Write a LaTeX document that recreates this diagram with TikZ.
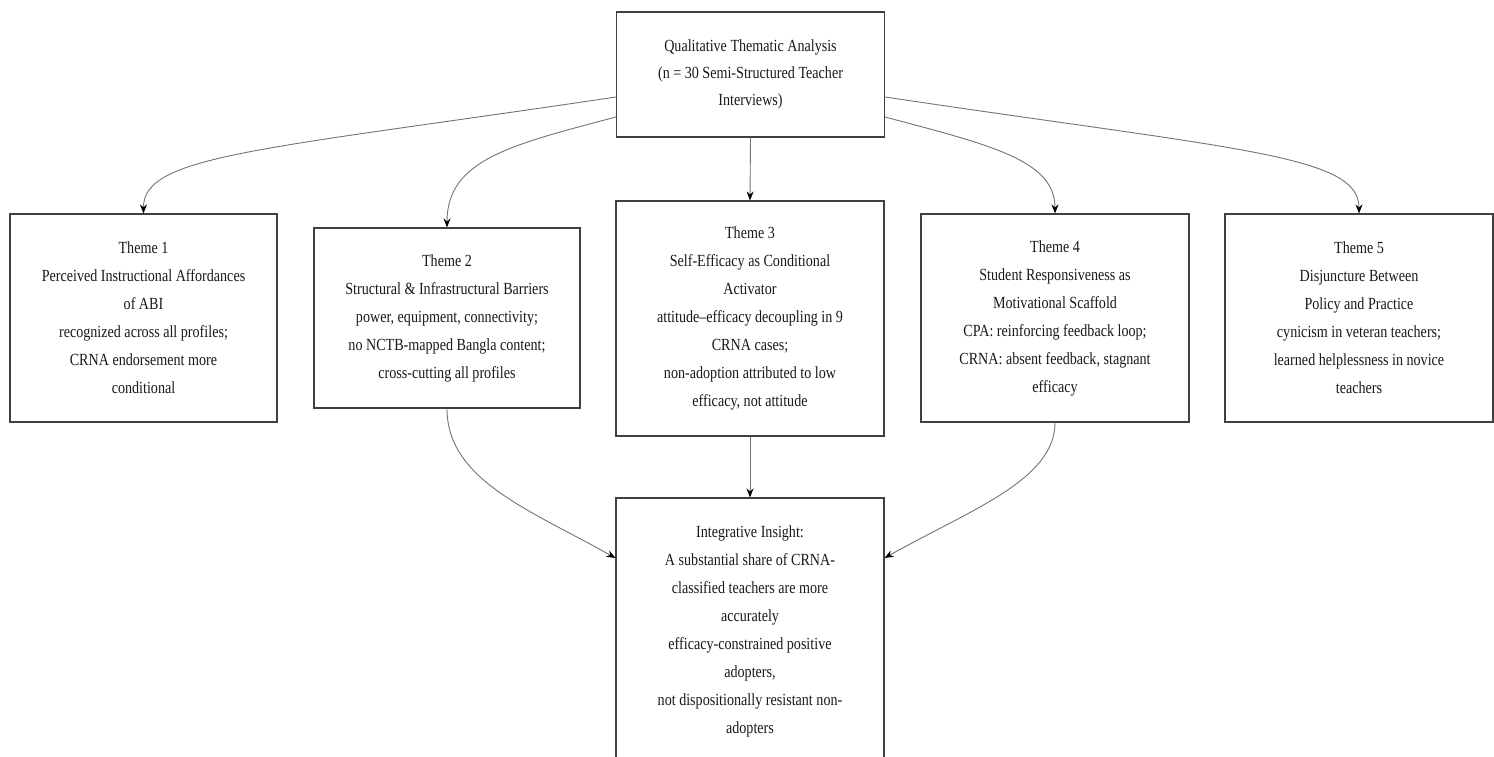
\documentclass[tikz,border=0pt]{standalone}
\usepackage{fontspec}
\setmainfont[FakeStretch=0.83]{Liberation Serif}
\usetikzlibrary{arrows.meta,calc}
\begin{document}
\begin{tikzpicture}[x=1pt,y=-1pt,
 box/.style={draw=black!75, line width=1.1pt, fill=white, align=center, inner sep=0pt,
   font=\fontsize{17}{28}\selectfont, text=black!90, minimum width=268pt},
 conn/.style={draw=black!55, line width=0.9pt, -{Stealth[length=9pt,width=7pt,black]}}]
\useasboundingbox (0,0) rectangle (1494,756);
\clip (0,0) rectangle (1494,756);

\node[box, minimum height=125pt, font=\fontsize{17}{27}\selectfont] (top) at (750.5,74.5)
  {Qualitative Thematic Analysis\\(n = 30 Semi-Structured Teacher\\Interviews)};

\node[box, minimum width=267pt, minimum height=208pt] (t1) at (143.5,318)
  {Theme 1\\Perceived Instructional Affordances\\of ABI\\recognized across all profiles;\\CRNA endorsement more\\conditional};
\node[box, minimum width=266pt, minimum height=180pt] (t2) at (447,318)
  {Theme 2\\Structural \& Infrastructural Barriers\\power, equipment, connectivity;\\no NCTB-mapped Bangla content;\\cross-cutting all profiles};
\node[box, minimum height=235pt] (t3) at (750,318.5)
  {Theme 3\\Self-Efficacy as Conditional\\Activator\\attitude--efficacy decoupling in 9\\CRNA cases;\\non-adoption attributed to low\\efficacy, not attitude};
\node[box, minimum height=208pt] (t4) at (1055,318)
  {Theme 4\\Student Responsiveness as\\Motivational Scaffold\\CPA: reinforcing feedback loop;\\CRNA: absent feedback, stagnant\\efficacy};
\node[box, minimum height=208pt] (t5) at (1359,318)
  {Theme 5\\Disjuncture Between\\Policy and Practice\\cynicism in veteran teachers;\\learned helplessness in novice\\teachers};

\node[box, minimum height=267pt] (ins) at (750,631.5)
  {Integrative Insight:\\A substantial share of CRNA-\\classified teachers are more\\accurately\\efficacy-constrained positive\\adopters,\\not dispositionally resistant non-\\adopters};

% top -> themes
\draw[conn] ($(top.west)+(0,22.5)$) .. controls (260,150) and (143,155) .. (t1.north);
\draw[conn] ($(top.west)+(0,42.5)$) .. controls (510,145) and (447,160) .. (t2.north);
\draw[conn] (top.south) -- (t3.north);
\draw[conn] ($(top.east)+(0,42.5)$) .. controls (990,145) and (1055,160) .. (t4.north);
\draw[conn] ($(top.east)+(0,22.5)$) .. controls (1240,150) and (1359,155) .. (t5.north);

% themes -> insight
\draw[conn] (t2.south) .. controls (447,480) and (530,510) .. ($(ins.west)+(0,-73.5)$);
\draw[conn] (t3.south) -- (ins.north);
\draw[conn] (t4.south) .. controls (1055,480) and (970,510) .. ($(ins.east)+(0,-73.5)$);
\end{tikzpicture}
\end{document}
